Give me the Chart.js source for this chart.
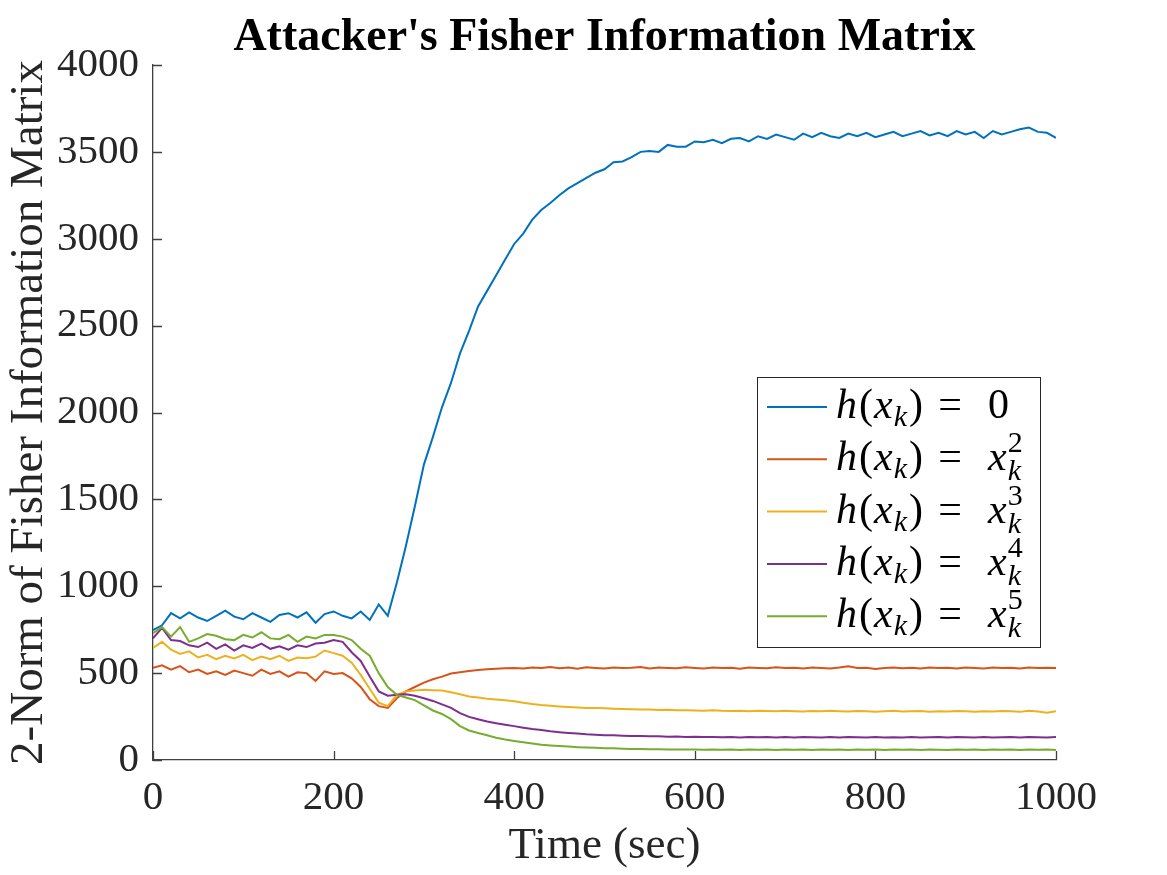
<!DOCTYPE html>
<html lang="en">
<head>
    <meta charset="UTF-8">
    <title>Attacker's Fisher Information Matrix</title>
    <script src="https://cdn.jsdelivr.net/npm/chart.js"></script>
    <style>
        body {
            margin: 0;
            padding: 0;
            background: #fff;
        }
        #wrap {
            width: 1167px;
            height: 875px;
        }
    </style>
</head>
<body>
    <div id="wrap"><canvas id="fisherChart"></canvas></div>

    <script>
        // time axis (sec), every 10 s
        const times = [
            0, 10, 20, 30, 40, 50, 60, 70, 80, 90,
            100, 110, 120, 130, 140, 150, 160, 170, 180, 190,
            200, 210, 220, 230, 240, 250, 260, 270, 280, 290,
            300, 310, 320, 330, 340, 350, 360, 370, 380, 390,
            400, 410, 420, 430, 440, 450, 460, 470, 480, 490,
            500, 510, 520, 530, 540, 550, 560, 570, 580, 590,
            600, 610, 620, 630, 640, 650, 660, 670, 680, 690,
            700, 710, 720, 730, 740, 750, 760, 770, 780, 790,
            800, 810, 820, 830, 840, 850, 860, 870, 880, 890,
            900, 910, 920, 930, 940, 950, 960, 970, 980, 990,
            1000
        ];

        // h(x_k) = 0
        const fimZero = [
            748, 775, 845, 815, 850, 820, 800, 830, 860, 825,
            810, 845, 820, 795, 835, 845, 820, 850, 790, 840,
            855, 830, 815, 855, 806, 895, 830, 1020, 1230, 1460,
            1700, 1860, 2030, 2170, 2340, 2470, 2610, 2700, 2790, 2880,
            2970, 3030, 3110, 3165, 3206, 3250, 3290, 3320, 3350, 3380,
            3400, 3440, 3445, 3470, 3500, 3505, 3500, 3540, 3530, 3530,
            3560, 3555, 3570, 3550, 3575, 3580, 3560, 3590, 3575, 3600,
            3585, 3570, 3605, 3585, 3610, 3590, 3580, 3605, 3590, 3610,
            3585, 3600, 3615, 3590, 3605, 3620, 3595, 3610, 3590, 3620,
            3600, 3615, 3580, 3620, 3600, 3615, 3630, 3640, 3615, 3610,
            3580
        ];

        // h(x_k) = x_k^2
        const fimPow2 = [
            530, 545, 520, 540, 505, 520, 495, 510, 490, 515,
            500, 485, 520, 495, 510, 480, 505, 500, 455, 510,
            495, 500, 470, 420, 350, 310, 300, 355, 395, 420,
            445, 465, 480, 498, 505, 512, 518, 522, 525, 528,
            530, 527, 533, 529, 535, 528, 532, 525, 534, 530,
            527, 533, 529, 531, 535, 526, 532, 530, 528, 534,
            530, 527, 533, 529, 531, 525, 532, 530, 528, 534,
            529, 531, 527, 533, 530, 526, 532, 540, 529, 531,
            524, 530, 533, 528, 531, 526, 532, 529, 531, 527,
            533, 530, 526, 532, 529, 531, 527, 533, 529, 531,
            530
        ];

        // h(x_k) = x_k^3
        const fimPow3 = [
            645, 680, 635, 610, 625, 590, 605, 580, 600, 585,
            605, 575, 595, 580, 600, 570, 590, 585, 595, 630,
            615, 600, 560, 490, 410, 330, 310, 375, 395, 400,
            405, 402, 400, 390, 378, 366, 360, 352, 348, 344,
            338, 330, 322, 316, 312, 308, 305, 302, 300, 300,
            298, 295, 293, 292, 290, 290, 288, 289, 286, 287,
            285, 284, 286, 283, 282, 284, 281, 283, 282, 280,
            283, 281, 279, 282, 280, 283, 281, 279, 282, 280,
            278, 281, 283, 279, 280, 282, 278, 281, 279, 282,
            280, 278, 281, 279, 282, 280, 277, 283, 279, 272,
            280
        ];

        // h(x_k) = x_k^4
        const fimPow4 = [
            700, 760, 690, 685, 660, 650, 675, 640, 665, 630,
            660, 645, 670, 640, 655, 635, 660, 650, 670, 675,
            690, 680, 620, 570, 480, 395, 370, 375, 378, 370,
            355, 340, 320, 300, 270, 248, 235, 222, 212, 203,
            195, 186, 178, 172, 165, 160, 156, 152, 148, 146,
            143, 142, 140, 138, 138, 136, 137, 134, 135, 133,
            134, 132, 133, 131, 133, 130, 132, 131, 133, 130,
            132, 130, 133, 131, 129, 132, 130, 133, 131, 129,
            132, 130, 131, 129, 132, 130, 131, 133, 130, 132,
            131, 129, 132, 130, 131, 133, 130, 132, 131, 130,
            132
        ];

        // h(x_k) = x_k^5
        const fimPow5 = [
            730, 765, 710, 765, 680, 700, 725, 715, 695, 690,
            720, 705, 735, 700, 695, 720, 680, 710, 700, 720,
            720, 710, 690, 640, 600, 500, 420, 375, 360, 345,
            315, 285, 265, 235, 195, 170, 155, 142, 128, 118,
            110, 102, 95, 88, 84, 80, 77, 74, 72, 70,
            68, 67, 65, 64, 63, 62, 62, 61, 60, 61,
            60, 59, 61, 59, 60, 58, 60, 59, 61, 58,
            60, 59, 61, 58, 60, 59, 61, 58, 60, 59,
            61, 58, 60, 59, 61, 58, 60, 59, 58, 60,
            59, 61, 58, 60, 59, 61, 58, 60, 59, 61,
            58
        ];

        const seriesValues = [fimZero, fimPow2, fimPow3, fimPow4, fimPow5];
        const seriesColors = ['#0072BD', '#D95319', '#EDB120', '#7E2F8E', '#77AC30'];
        // legend right-hand sides: plain text or x_k with superscript
        const legendRhs = ['0', '2', '3', '4', '5'];

        const chartTitle = "Attacker's Fisher Information Matrix";
        const xTitle = 'Time (sec)';
        const yTitle = '2-Norm of Fisher Information Matrix';

        const axisColor = '#404040';
        const textColor = '#262626';
        const serif = '"Liberation Serif", "Times New Roman", serif';

        const datasets = seriesValues.map((vals, i) => ({
            label: 'h' + i,
            data: times.map((t, j) => ({ x: t, y: vals[j] })),
            borderColor: seriesColors[i],
            borderWidth: 2,
            pointRadius: 0,
            fill: false,
            tension: 0,
            order: seriesValues.length - i
        }));

        // MATLAB style inward ticks, titles and the math legend
        const decorPlugin = {
            id: 'decor',
            afterDraw(chart) {
                const ctx = chart.ctx;
                const a = chart.chartArea;
                const xs = chart.scales.x;
                const ys = chart.scales.y;
                ctx.save();

                // inward ticks
                ctx.strokeStyle = axisColor;
                ctx.lineWidth = 1.3;
                ctx.beginPath();
                ys.ticks.forEach(t => {
                    const py = Math.round(ys.getPixelForValue(t.value)) + 0.5;
                    ctx.moveTo(a.left, py);
                    ctx.lineTo(a.left + 9, py);
                });
                xs.ticks.forEach(t => {
                    const px = Math.round(xs.getPixelForValue(t.value)) + 0.5;
                    ctx.moveTo(px, a.bottom);
                    ctx.lineTo(px, a.bottom - 9);
                });
                ctx.stroke();

                // title
                ctx.fillStyle = '#000';
                ctx.textAlign = 'center';
                ctx.textBaseline = 'alphabetic';
                ctx.font = 'bold 46px ' + serif;
                ctx.fillText(chartTitle, (a.left + a.right) / 2, 50);

                // axis titles
                ctx.fillStyle = textColor;
                ctx.font = '45px ' + serif;
                ctx.fillText(xTitle, (a.left + a.right) / 2, 858);
                ctx.save();
                ctx.translate(42, (a.top + a.bottom) / 2);
                ctx.rotate(-Math.PI / 2);
                ctx.font = '47px ' + serif;
                ctx.fillText(yTitle, 0, 0);
                ctx.restore();

                // legend box
                const boxW = 283, boxH = 270;
                const bx = a.right - 16 - boxW;
                const by = a.top + 312;
                ctx.fillStyle = '#fff';
                ctx.fillRect(bx, by, boxW, boxH);
                ctx.strokeStyle = '#262626';
                ctx.lineWidth = 1;
                ctx.strokeRect(bx + 0.5, by + 0.5, boxW, boxH);

                const big = 'italic 42px ' + serif;
                const bigUp = '42px ' + serif;
                const small = 'italic 30px ' + serif;
                const smallUp = '30px ' + serif;
                ctx.textAlign = 'left';
                ctx.textBaseline = 'alphabetic';

                const piece = (txt, font, x, y) => {
                    ctx.font = font;
                    ctx.fillText(txt, x, y);
                    return x + ctx.measureText(txt).width;
                };

                legendRhs.forEach((rhs, i) => {
                    const rowY = by + 30 + i * 52.3;
                    ctx.strokeStyle = seriesColors[i];
                    ctx.lineWidth = 2;
                    ctx.beginPath();
                    ctx.moveTo(bx + 10, rowY);
                    ctx.lineTo(bx + 70, rowY);
                    ctx.stroke();

                    ctx.fillStyle = '#000';
                    const base = rowY + 11;
                    let x = bx + 79;
                    x = piece('h', big, x, base);
                    x = piece('(', bigUp, x + 2, base);
                    x = piece('x', big, x + 1, base);
                    x = piece('k', small, x + 1, base + 8);
                    x = piece(')', bigUp, x + 2, base);
                    ctx.font = bigUp;
                    ctx.textAlign = 'center';
                    ctx.fillText('=', bx + 193, base);
                    ctx.textAlign = 'left';
                    let rx = bx + 231;
                    if (i === 0) {
                        piece(rhs, bigUp, rx, base);
                    } else {
                        rx = piece('x', big, rx, base);
                        piece(rhs, smallUp, rx + 1, base - 18);
                        piece('k', small, rx + 1, base + 10);
                    }
                });

                ctx.restore();
            }
        };

        const ctx = document.getElementById('fisherChart').getContext('2d');
        const fisherChart = new Chart(ctx, {
            type: 'line',
            data: { datasets: datasets },
            options: {
                responsive: true,
                maintainAspectRatio: false,
                animation: false,
                layout: {
                    padding: { left: 53, right: 111, top: 65, bottom: 55 }
                },
                plugins: {
                    legend: { display: false },
                    tooltip: { enabled: false },
                    title: { display: false }
                },
                scales: {
                    x: {
                        type: 'linear',
                        min: 0,
                        max: 1000,
                        afterFit: s => { s.height = 60; },
                        ticks: {
                            stepSize: 200,
                            padding: 14,
                            color: textColor,
                            font: { family: serif, size: 41 },
                            callback: v => String(v)
                        },
                        grid: { drawOnChartArea: false, drawTicks: false },
                        border: { display: true, color: axisColor, width: 1.3 }
                    },
                    y: {
                        min: 0,
                        max: 4000,
                        afterFit: s => { s.width = 100; },
                        ticks: {
                            stepSize: 500,
                            padding: 14,
                            color: textColor,
                            font: { family: serif, size: 41 },
                            callback: v => String(v)
                        },
                        grid: { drawOnChartArea: false, drawTicks: false },
                        border: { display: true, color: axisColor, width: 1.3 }
                    }
                }
            },
            plugins: [decorPlugin]
        });
    </script>
</body>
</html>
